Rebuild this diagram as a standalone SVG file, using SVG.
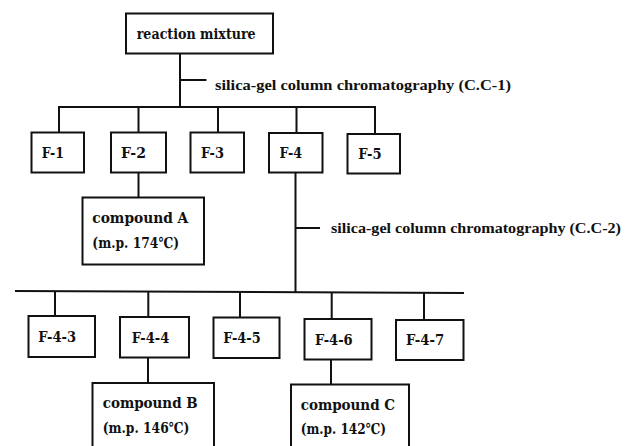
<svg xmlns="http://www.w3.org/2000/svg" width="631" height="446" viewBox="0 0 631 446">
<style>
.box{fill:#fff;stroke:#111;stroke-width:2}
.ln{fill:none;stroke:#111;stroke-width:2}
text{font-family:"DejaVu Serif","Liberation Serif",serif;font-weight:bold;font-size:15px;fill:#111}
text.lbl{font-family:"Liberation Serif","DejaVu Serif",serif;font-size:15.5px}
</style>
<rect width="631" height="446" fill="#fff"/>
<g id="connectors">
<path class="ln" d="M180,53.5V107M180,80H206.5"/>
<path class="ln" d="M59,132.5V107H375V134M138.5,107V132.5M218,107V132.5M296.5,107V133"/>
<path class="ln" d="M138.5,172.5V197.5"/>
<path class="ln" d="M295.5,172.5V292M295.5,228H320"/>
<path class="ln" d="M15,291L464,293"/>
<path class="ln" d="M55,291.2V316M148.3,291.6V317M240,292V317.5M331.7,292.4V319M424,292.8V320"/>
<path class="ln" d="M148,357.5V383M331,359.5V384.5"/>
</g>
<g id="reaction-mixture"><rect class="box" x="126" y="13.5" width="147" height="40"/><text x="136.7" y="38.5" textLength="119" lengthAdjust="spacingAndGlyphs">reaction mixture</text></g>
<g id="cc1-label"><text class="lbl" x="215" y="90" textLength="296" lengthAdjust="spacingAndGlyphs">silica-gel column chromatography (C.C-1)</text></g>
<g id="F-1"><rect class="box" x="31.5" y="132.5" width="52.5" height="40"/><text x="41.7" y="157.5" textLength="22.3" lengthAdjust="spacingAndGlyphs">F-1</text></g>
<g id="F-2"><rect class="box" x="111" y="132.5" width="55" height="40"/><text x="121" y="157.5" textLength="25" lengthAdjust="spacingAndGlyphs">F-2</text></g>
<g id="F-3"><rect class="box" x="190.5" y="132.5" width="53.5" height="40"/><text x="201" y="157.5" textLength="23" lengthAdjust="spacingAndGlyphs">F-3</text></g>
<g id="F-4"><rect class="box" x="269" y="133" width="53.5" height="39.5"/><text x="279.5" y="158" textLength="22.5" lengthAdjust="spacingAndGlyphs">F-4</text></g>
<g id="F-5"><rect class="box" x="347.5" y="134" width="52.5" height="39.5"/><text x="358.3" y="158.5" textLength="23.4" lengthAdjust="spacingAndGlyphs">F-5</text></g>
<g id="compound-A"><rect class="box" x="82.5" y="197.5" width="121.5" height="67"/><text x="92.3" y="223.3" textLength="96" lengthAdjust="spacingAndGlyphs">compound A</text><text x="92.3" y="248" textLength="86.7" lengthAdjust="spacingAndGlyphs">(m.p. 174℃)</text></g>
<g id="cc2-label"><text class="lbl" x="331" y="233" textLength="290" lengthAdjust="spacingAndGlyphs">silica-gel column chromatography (C.C-2)</text></g>
<g id="F-4-3"><rect class="box" x="28.5" y="316" width="66.5" height="41"/><text x="38.3" y="342" textLength="37.7" lengthAdjust="spacingAndGlyphs">F-4-3</text></g>
<g id="F-4-4"><rect class="box" x="120" y="317" width="69" height="40.5"/><text x="131.7" y="342.5" textLength="37.6" lengthAdjust="spacingAndGlyphs">F-4-4</text></g>
<g id="F-4-5"><rect class="box" x="213.5" y="317.5" width="66" height="40.5"/><text x="223.3" y="343" textLength="37.4" lengthAdjust="spacingAndGlyphs">F-4-5</text></g>
<g id="F-4-6"><rect class="box" x="304.5" y="319" width="67" height="40.5"/><text x="315" y="344.5" textLength="37.7" lengthAdjust="spacingAndGlyphs">F-4-6</text></g>
<g id="F-4-7"><rect class="box" x="396" y="320" width="67.5" height="40"/><text x="406" y="345" textLength="38.3" lengthAdjust="spacingAndGlyphs">F-4-7</text></g>
<g id="compound-B"><rect class="box" x="92.5" y="383" width="121.5" height="70"/><text x="102.7" y="408.3" textLength="95" lengthAdjust="spacingAndGlyphs">compound B</text><text x="102.7" y="432.7" textLength="86.6" lengthAdjust="spacingAndGlyphs">(m.p. 146℃)</text></g>
<g id="compound-C"><rect class="box" x="291" y="384.5" width="118" height="70"/><text x="300.7" y="410" textLength="94.3" lengthAdjust="spacingAndGlyphs">compound C</text><text x="300.7" y="434" textLength="85.3" lengthAdjust="spacingAndGlyphs">(m.p. 142℃)</text></g>
</svg>
